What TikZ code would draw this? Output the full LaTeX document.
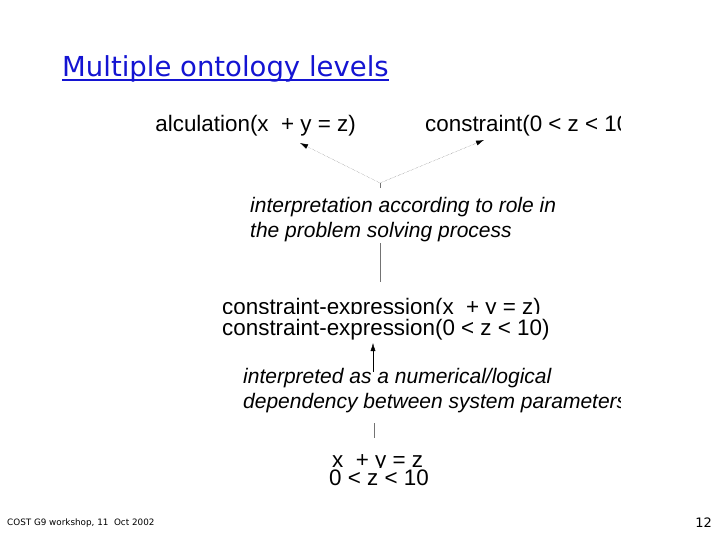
\documentclass[tikz,border=0pt]{standalone}
\usepackage{fontspec}
\setmainfont{Liberation Sans}
\newfontfamily\verdanalike{DejaVu Sans}
\usetikzlibrary{arrows.meta}
\definecolor{titleblue}{RGB}{20,20,210}
\tikzset{
  >={Latex[length=8pt,width=5pt]},
  {term/.style} ={anchor=base west, inner sep=0,
                  font=\fontsize{22.4}{22}\selectfont},
  {cover term/.style} ={term, fill=white, text height=21pt},
  {role/.style} ={anchor=base west, inner sep=0, align=left,
                  font=\fontsize{21}{25}\selectfont\itshape},
  {dot link/.style} ={-{Latex[length=8pt,width=5pt,black]},
                  densely dotted, black!60, thin},
  {plain link/.style} ={black!55, thin},
  {foot/.style} ={anchor=base west, inner sep=0,
                  font=\verdanalike\fontsize{8.8}{9}\selectfont},
}
\begin{document}
\begin{tikzpicture}[x=1pt,y=-1pt]
\useasboundingbox (0,0) rectangle (720,540);
% title
\node[anchor=base west, inner sep=0, text=titleblue,
      font=\verdanalike\fontsize{27.5}{27.5}\selectfont] (title) at (62,77)
      {Multiple ontology levels};
\draw[titleblue, line width=1.3pt] ([yshift=-3pt]title.base west)
      -- ([yshift=-3pt]title.base east);
% the clipped figure
\begin{scope}
\clip (155,98) rectangle (620,493);
\node[term] (calc) at (144,132) {calculation(x\ \ + y = z)};
\node[term] (cons) at (425,132) {constraint(0 < z < 10)};
\coordinate (calc tip) at (300,143);
\coordinate (cons tip) at (484,140);
\coordinate (hub) at (380,183);
\draw[dot link] (hub) -- (calc tip);
\draw[dot link] (hub) -- (cons tip);
\draw[plain link] (hub) -- ++(0,5);

% baseline of the last line
\node[role] (role1) at (250,237)
      {interpretation according to role in\\the problem solving process};
\coordinate (role1 foot) at (380,243);
\coordinate (expr top) at (380,282);
\draw[plain link] (role1 foot) -- (expr top);

\node[term] (expr1) at (222,314) {constraint-expression(x\ \ + y = z)};
\node[cover term] (expr2) at (222,335) {constraint-expression(0 < z < 10)};

\coordinate (expr foot) at (373,343);
\coordinate (role2 top) at (373,372);
\draw[->, black] (role2 top) -- (expr foot);

\node[role] (role2) at (243,408)
      {interpreted as a numerical/logical\\dependency between system parameters};
\coordinate (role2 foot) at (374,423);
\coordinate (eq top) at (374,438);
\draw[plain link] (role2 foot) -- (eq top);

\node[term] (eq1) at (332,467) {x\ \ + y = z};
\node[cover term, text height=17pt] (eq2) at (329,485) {0 < z < 10};
\end{scope}
% footer
\node[foot] (venue) at (7,525) {COST G9 workshop, 11\ \ Oct 2002};
\node[anchor=base east, inner sep=0,
      font=\verdanalike\fontsize{13}{13}\selectfont] (page) at (712,527) {12};
\end{tikzpicture}
\end{document}
